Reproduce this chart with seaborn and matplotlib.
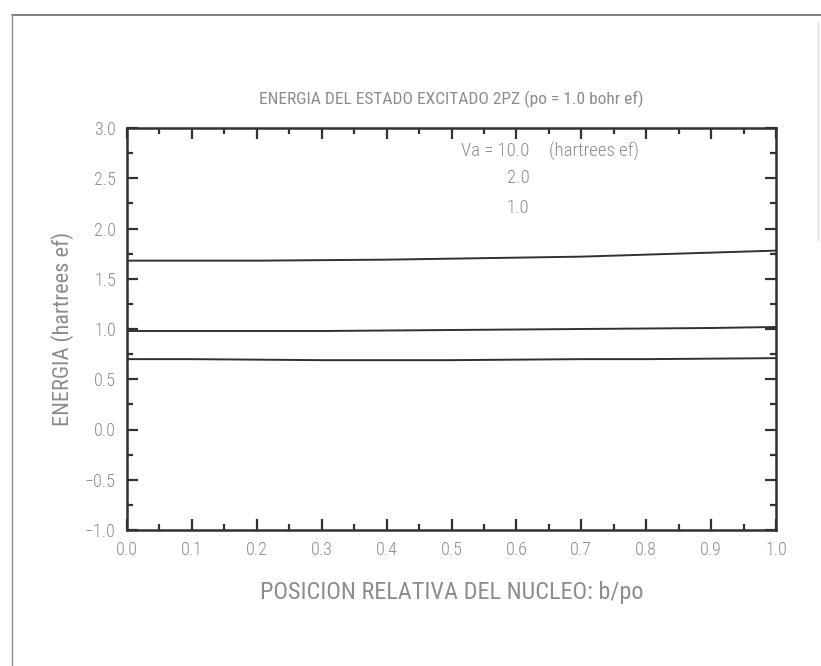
import matplotlib
matplotlib.use("Agg")
import matplotlib.pyplot as plt
from matplotlib.ticker import MultipleLocator
from matplotlib.lines import Line2D
from matplotlib import font_manager
import pandas as pd
import seaborn as sns

# Energy of the 2PZ excited state vs. relative nucleus position
pos = [0.0, 0.1, 0.2, 0.3, 0.4, 0.5, 0.6, 0.7, 0.8, 0.9, 1.0]
e_va10 = [1.68, 1.68, 1.68, 1.685, 1.69, 1.70, 1.71, 1.72, 1.74, 1.76, 1.78]
e_va2 = [0.98, 0.98, 0.98, 0.98, 0.985, 0.99, 0.995, 1.0, 1.005, 1.01, 1.02]
e_va1 = [0.70, 0.70, 0.695, 0.69, 0.69, 0.69, 0.695, 0.70, 0.70, 0.705, 0.71]
va_labels = ["10.0", "2.0", "1.0"]

x_ticks = [0.0, 0.1, 0.2, 0.3, 0.4, 0.5, 0.6, 0.7, 0.8, 0.9, 1.0]
y_ticks = [-1.0, -0.5, 0.0, 0.5, 1.0, 1.5, 2.0, 2.5, 3.0]

sns.set_style("white")
installed = {f.name for f in font_manager.fontManager.ttflist}
families = [f for f in ["Roboto Condensed", "Liberation Sans Narrow",
                        "DejaVu Sans"] if f in installed] or ["DejaVu Sans"]
plt.rcParams["font.family"] = families
plt.rcParams["font.stretch"] = "condensed"
plt.rcParams["font.weight"] = "light"

TXT = "#8c8c8c"
INK = "#2e3330"

df = pd.concat([
    pd.DataFrame({"b": pos, "E": e, "Va": lab})
    for e, lab in zip([e_va10, e_va2, e_va1], va_labels)
])

fig = plt.figure(figsize=(8.21, 6.66), dpi=100)
ax = fig.add_axes([127 / 821, 1 - 530 / 666, 649 / 821, 402 / 666])

sns.lineplot(data=df, x="b", y="E", hue="Va", palette=[INK] * 3,
             linewidth=1.4, legend=False, ax=ax)

ax.set_xlim(0, 1)
ax.set_ylim(-1, 3)
ax.xaxis.set_minor_locator(MultipleLocator(0.05))
ax.yaxis.set_minor_locator(MultipleLocator(0.25))
ax.set_xticks(x_ticks)
ax.set_yticks(y_ticks)
ax.set_xticklabels([f"{v:.1f}" for v in x_ticks])
ax.set_yticklabels([f"{v:.1f}".replace("-", "\u2212") for v in y_ticks])

ax.tick_params(which="both", direction="in", top=True, right=True,
               bottom=True, left=True, color=INK, labelcolor=TXT,
               labelsize=13, pad=8)
ax.tick_params(which="major", length=8, width=1.6)
ax.tick_params(which="minor", length=4, width=1.6)
for s in ax.spines.values():
    s.set_color(INK)
    s.set_linewidth(1.8)

ax.set_xlabel("POSICION RELATIVA DEL NUCLEO: b/po", fontsize=17.5,
              color=TXT, labelpad=16)
ax.set_ylabel("ENERGIA (hartrees ef)", fontsize=16, color=TXT, labelpad=8)
ax.set_title("ENERGIA DEL ESTADO EXCITADO 2PZ (po = 1.0 bohr ef)",
             fontsize=12.5, color=TXT, pad=17)

# series annotations
ax.text(0.62, 2.77, "Va = 10.0", ha="right", va="center", fontsize=13.5,
        color=TXT)
ax.text(0.65, 2.77, "(hartrees ef)", ha="left", va="center", fontsize=13.5,
        color=TXT)
for lab, yv in zip(va_labels[1:], [2.50, 2.20]):
    ax.text(0.62, yv, lab, ha="right", va="center", fontsize=13.5, color=TXT)

# page border
fig.add_artist(Line2D([12 / 821, 1.0], [1 - 15 / 666, 1 - 15 / 666],
                      transform=fig.transFigure, color="#6a6a6a", lw=1.2))
fig.add_artist(Line2D([12 / 821, 12 / 821], [1 - 15 / 666, 0.0],
                      transform=fig.transFigure, color="#8a8a8a", lw=1.0))
fig.add_artist(Line2D([818 / 821, 818 / 821], [1 - 22 / 666, 1 - 240 / 666],
                      transform=fig.transFigure, color="#d8d8d8", lw=1.0))

fig.savefig("out.png", dpi=100, facecolor="white")
